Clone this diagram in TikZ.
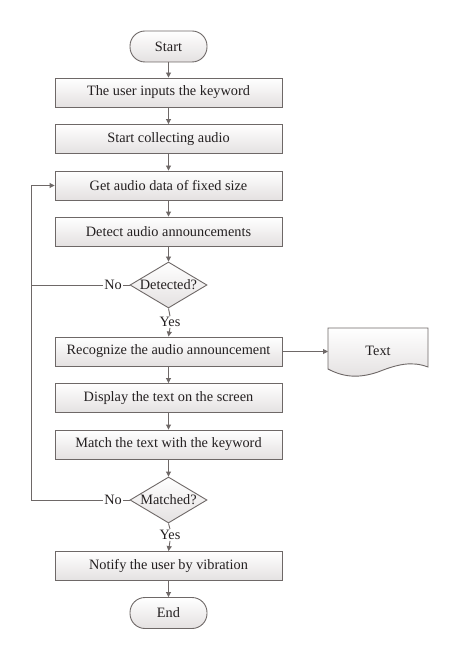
\documentclass[tikz,border=0pt]{standalone}
\usepackage{fontspec}
\setmainfont{Liberation Serif}
\usetikzlibrary{shapes.geometric,arrows.meta}
\definecolor{lc}{HTML}{6E6867}
\definecolor{tc}{HTML}{231F20}
\definecolor{fb}{HTML}{E4E1E1}
\tikzset{
  base/.style={draw=lc, line width=0.9pt, text=tc, font=\fontsize{14.3}{16}\selectfont, top color=white, bottom color=fb, inner sep=0pt},
  procbox/.style={base, minimum width=227pt, minimum height=29pt},
  term/.style={base, rounded corners=15pt, minimum width=77pt, minimum height=31pt},
  decide/.style={base, diamond, aspect=1.67, minimum width=77pt, minimum height=46pt},
  lbl/.style={text=tc, font=\fontsize{14.3}{16}\selectfont, inner sep=1pt},
  conn/.style={draw=lc, line width=0.9pt},
  arr/.style={conn, -{Triangle[length=5pt,width=5pt]}}
}
\begin{document}
\begin{tikzpicture}[x=1pt,y=-1pt]
\useasboundingbox (0,0) rectangle (458,660);
\node[term] (start) at (168.5,46.5) {Start};
\node[procbox] (b1) at (168.5,92.5) {The user inputs the keyword};
\node[procbox] (b2) at (168.5,139) {Start collecting audio};
\node[procbox] (b3) at (168.5,185.5) {Get audio data of fixed size};
\node[procbox] (b4) at (168.5,231.5) {Detect audio announcements};
\node[decide] (d1) at (168.5,285) {Detected?};
\node[lbl] (yes1) at (170,322) {Yes};
\node[lbl] (no1) at (113,285) {No};
\node[procbox] (b5) at (168.5,351.5) {Recognize the audio announcement};
\node[procbox] (b6) at (168.5,398) {Display the text on the screen};
\node[procbox] (b7) at (168.5,444.5) {Match the text with the keyword};
\node[decide] (d2) at (168.5,500) {Matched?};
\node[lbl] (yes2) at (170,535) {Yes};
\node[lbl] (no2) at (113,500) {No};
\node[procbox] (b8) at (168.5,566) {Notify the user by vibration};
\node[term] (end) at (168.5,613) {End};
% document shape
\coordinate (doctl) at (328,328);
\coordinate (doctr) at (428,328);
\coordinate (docbr) at (428,367);
\coordinate (docbl) at (328,369);
\shade[top color=white, bottom color=fb] (doctl) -- (doctr) -- (docbr) .. controls (412,361) and (398,364) .. (378,372) .. controls (360,378) and (345,378) .. (docbl) -- cycle;
\draw[conn] (doctl) -- (doctr) -- (docbr) .. controls (412,361) and (398,364) .. (378,372) .. controls (360,378) and (345,378) .. (docbl) -- cycle;
\node[lbl] (doc) at (378,351) {Text};
\coordinate (docin) at (328,351.5);
% connectors
\draw[arr] (start) -- (b1);
\draw[arr] (b1) -- (b2);
\draw[arr] (b2) -- (b3);
\draw[arr] (b3) -- (b4);
\draw[arr] (b4) -- (d1);
\draw[conn] (d1.south) -- (yes1.north);
\draw[arr] (yes1.south) -- (b5.north);
\draw[conn] (d1.west) -- (no1.east);
\coordinate (l1) at (31,285);
\coordinate (l2) at (31,500);
\draw[arr] (no1.west) -- (l1) |- (b3.west);
\draw[arr] (b5.east) -- (docin);
\draw[arr] (b5) -- (b6);
\draw[arr] (b6) -- (b7);
\draw[arr] (b7) -- (d2);
\draw[conn] (d2.west) -- (no2.east);
\draw[conn] (no2.west) -- (l2) -- (l1);
\draw[conn] (d2.south) -- (yes2.north);
\draw[arr] (yes2.south) -- (b8.north);
\draw[arr] (b8) -- (end);
\end{tikzpicture}
\end{document}
